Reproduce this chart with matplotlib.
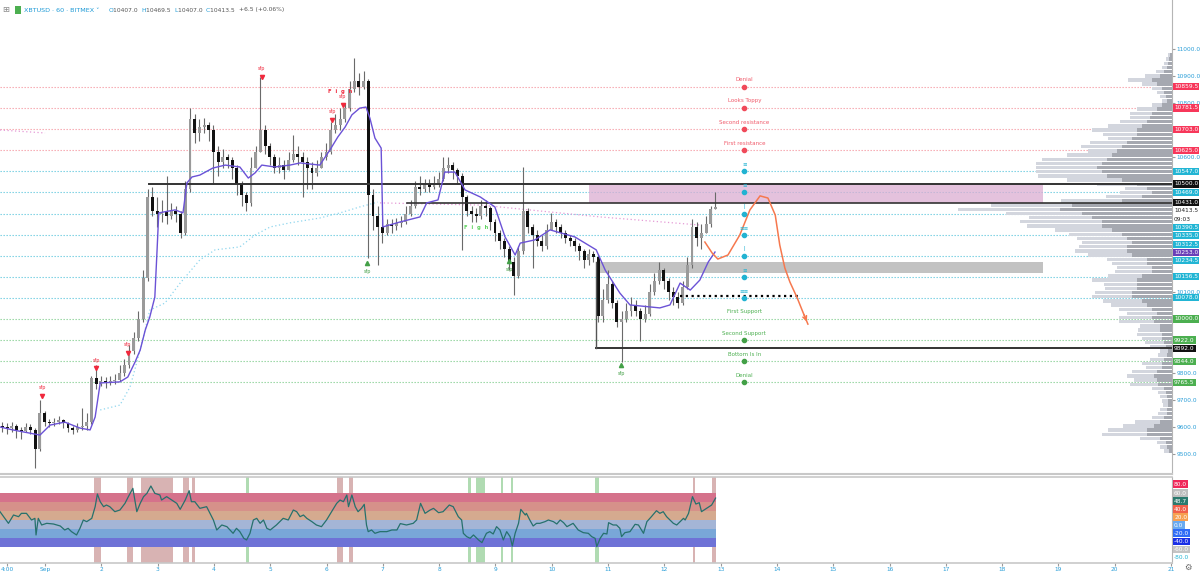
import numpy as np
import matplotlib.pyplot as plt
from matplotlib.transforms import blended_transform_factory
from matplotlib.patches import Rectangle

plt.rcParams['font.family'] = ['DejaVu Sans']

# ---- XBTUSD, 2h candles, first candle starts at day 0.2 (31 Aug), Sep 1 = day 1 ----
t_start = 0.2
bar_step = 1 / 12
first_open = 9605
close = [9600, 9595, 9605, 9590, 9585, 9600, 9590, 9520, 9650, 9620,
         9615, 9620, 9625, 9615, 9595, 9590, 9600, 9605, 9620, 9780,
         9760, 9770, 9765, 9770, 9775, 9800, 9830, 9880, 9930, 10000,
         10150, 10450, 10400, 10390, 10395, 10380, 10400, 10390, 10320, 10480,
         10740, 10690, 10710, 10720, 10700, 10620, 10580, 10600, 10590, 10560,
         10500, 10460, 10430, 10560, 10620, 10700, 10640, 10600, 10560, 10570,
         10550, 10590, 10610, 10600, 10580, 10560, 10540, 10560, 10600, 10620,
         10700, 10720, 10740, 10780, 10850, 10880, 10860, 10880, 10460, 10380,
         10340, 10320, 10350, 10345, 10355, 10360, 10390, 10420, 10490, 10480,
         10500, 10490, 10500, 10520, 10560, 10570, 10550, 10530, 10450, 10400,
         10390, 10380, 10420, 10410, 10360, 10320, 10290, 10260, 10210, 10160,
         10250, 10400, 10340, 10310, 10290, 10270, 10330, 10360, 10340, 10320,
         10300, 10290, 10270, 10250, 10220, 10240, 10230, 10010, 10070, 10130,
         10060, 9990, 10000, 10030, 10050, 10030, 10000, 10020, 10100, 10140,
         10180, 10140, 10100, 10080, 10060, 10120, 10200, 10340, 10300, 10320,
         10350, 10407, 10413.5]
high = [9620, 9615, 9620, 9610, 9600, 9615, 9610, 9595, 9700, 9660,
        9630, 9635, 9640, 9630, 9620, 9605, 9615, 9670, 9650, 9790,
        9830, 9790, 9785, 9790, 9795, 9830, 9850, 9904, 9950, 10030,
        10180, 10480, 10490, 10450, 10440, 10530, 10430, 10420, 10400, 10510,
        10781, 10760, 10740, 10745, 10730, 10720, 10640, 10630, 10610, 10600,
        10570, 10510, 10470, 10600, 10640, 10896, 10720, 10650, 10610, 10600,
        10590, 10620, 10680, 10640, 10620, 10600, 10580, 10590, 10620, 10650,
        10730, 10760, 10780, 10800, 10880, 10967, 10910, 10920, 10890, 10480,
        10420, 10370, 10370, 10370, 10375, 10380, 10420, 10440, 10510, 10530,
        10520, 10520, 10530, 10545, 10600, 10600, 10580, 10560, 10540, 10460,
        10420, 10410, 10440, 10440, 10420, 10370, 10330, 10300, 10270, 10230,
        10270, 10563, 10410, 10350, 10330, 10310, 10350, 10393, 10370, 10350,
        10330, 10310, 10300, 10280, 10260, 10260, 10250, 10240, 10110, 10180,
        10140, 10070, 10030, 10060, 10080, 10070, 10040, 10050, 10130, 10170,
        10210, 10190, 10150, 10120, 10100, 10140, 10230, 10370, 10360, 10350,
        10380, 10420, 10469.5]
low = [9580, 9575, 9580, 9560, 9555, 9580, 9575, 9448, 9510, 9605,
       9600, 9605, 9610, 9595, 9580, 9575, 9580, 9590, 9590, 9610,
       9740, 9750, 9745, 9755, 9760, 9770, 9790, 9820, 9870, 9920,
       9990, 10140, 10380, 10340, 10360, 10350, 10370, 10360, 10300, 10310,
       10470, 10650, 10660, 10690, 10660, 10500, 10530, 10560, 10560, 10520,
       10460, 10420, 10400, 10420, 10560, 10620, 10610, 10570, 10540, 10540,
       10520, 10550, 10580, 10570, 10450, 10480, 10480, 10530, 10560, 10590,
       10610, 10690, 10700, 10730, 10770, 10840, 10830, 10850, 10226, 10330,
       10200, 10280, 10310, 10320, 10330, 10340, 10350, 10380, 10410, 10460,
       10470, 10470, 10480, 10490, 10510, 10540, 10520, 10500, 10256, 10380,
       10360, 10360, 10370, 10380, 10330, 10290, 10260, 10230, 10180, 10089,
       10150, 10240, 10320, 10190, 10270, 10250, 10260, 10330, 10320, 10300,
       10280, 10270, 10250, 10220, 10190, 10200, 10210, 9990, 9990, 10060,
       10040, 9970, 9841, 9990, 10010, 10010, 9920, 9990, 10010, 10090,
       10130, 10110, 10070, 10050, 10040, 10050, 10110, 10190, 10270, 10260,
       10320, 10340, 10407]

# purple vwap-ish line
vwap_t = [0.20, 0.43, 0.91, 1.09, 1.35, 1.62, 1.80, 1.89, 1.98, 2.33, 2.47, 2.60, 2.69, 2.78,
          2.86, 2.95, 2.99, 3.02, 3.31, 3.45, 3.52, 3.61, 3.75, 3.98, 4.20, 4.46, 4.61, 4.73,
          4.85, 5.08, 5.35, 5.53, 5.88, 6.06, 6.20, 6.33, 6.45, 6.59, 6.70, 6.77, 6.86, 6.97,
          7.00, 7.30, 7.66, 7.78, 7.98, 8.10, 8.28, 8.46, 8.73, 8.99, 9.17, 9.35, 9.44, 9.70,
          9.97, 10.41, 10.79, 10.95, 11.21, 11.39, 11.92, 12.10, 12.28, 12.46, 12.63, 12.78, 12.90]
vwap_p = [9600, 9589, 9570, 9607, 9618, 9596, 9589, 9637, 9763, 9767, 9785, 9841, 9885, 9959,
          10007, 10081, 10256, 10393, 10404, 10393, 10504, 10526, 10533, 10559, 10570, 10563, 10522, 10541,
          10570, 10563, 10570, 10578, 10570, 10626, 10674, 10711, 10756, 10781, 10785, 10744, 10670, 10633,
          10341, 10359, 10378, 10430, 10441, 10544, 10544, 10478, 10452, 10415, 10304, 10237, 10281, 10293,
          10330, 10304, 10256, 10181, 10096, 10052, 10041, 10052, 10133, 10107, 10144, 10211, 10248]

# light blue anchored line (dotted)
avwap_t = [1.98, 2.33, 2.51, 2.69, 2.86, 3.13, 3.40, 3.75, 4.02, 4.46, 4.73, 5.00, 5.35, 5.88, 6.24, 6.59, 6.91]
avwap_p = [9663, 9681, 9748, 9885, 10033, 10059, 10133, 10219, 10256, 10267, 10311, 10341, 10356, 10374, 10393, 10415, 10433]

# pink dotted lines
pink1_t = [0.2, 1.0]
pink1_p = [10700, 10689]
pink2_t = [6.95, 8.73, 10.86, 12.63]
pink2_p = [10430, 10422, 10378, 10348]

# orange projection
proj_t = [12.72, 12.85, 12.95, 13.13, 13.34, 13.52, 13.70, 13.84, 13.97, 14.05, 14.14, 14.23, 14.36, 14.46, 14.55]
proj_p = [10285, 10244, 10222, 10237, 10311, 10404, 10456, 10448, 10385, 10274, 10189, 10137, 10078, 10026, 9981]

# levels
red_levels = [10859.5, 10781.5, 10703.0, 10625.0]
red_names = ["Denial", "Looks Toppy", "Second resistance", "First resistance"]
cyan_levels = [10547.0, 10469.0, 10390.5, 10312.5, 10234.5, 10156.5, 10078.0]
cyan_icons = ["≡", "≡", "ǀ", "≡≡", "ǀ", "≡", "≡≡"]
green_levels = [10000.0, 9922.0, 9844.0, 9765.5]
green_names = ["First Support", "Second Support", "Bottom Is In", "Denial"]
level_col_t = 13.42

# sfp markers
sfp_red_t = [0.95, 1.905, 2.47, 4.85, 6.10, 6.29]
sfp_red_p = [9715, 9818, 9874, 10896, 10737, 10793]
sfp_green_t = [6.72, 9.24, 11.23]
sfp_green_p = [10207, 10215, 9830]

# volume profile (top row first), bar lengths in px-ish units
vp_total = [4, 6, 8, 10, 16, 27, 44, 30, 20, 15, 12, 10, 20, 35, 42, 42, 52, 64, 80, 69,
            64, 82, 91, 84, 105, 130, 136, 136, 136, 134, 105, 75, 47, 52, 66, 111, 181, 214, 166, 143,
            152, 145, 117, 103, 95, 90, 93, 97, 84, 65, 60, 55, 57, 64, 80, 68, 67, 77, 80, 69,
            61, 53, 45, 53, 53, 32, 34, 35, 30, 27, 22, 12, 14, 22, 30, 26, 40, 45, 38, 42,
            20, 14, 12, 10, 9, 12, 14, 20, 37, 49, 64, 70, 32, 15, 12, 8]
vp_dark = [2, 3, 4, 5, 8, 12, 20, 15, 10, 8, 6, 5, 10, 15, 20, 22, 25, 30, 35, 35,
           40, 45, 50, 55, 60, 65, 70, 75, 70, 65, 50, 35, 25, 20, 30, 50, 100, 112, 90, 80,
           70, 70, 60, 50, 45, 40, 45, 45, 40, 25, 25, 20, 20, 30, 35, 35, 35, 40, 40, 30,
           25, 20, 15, 20, 18, 12, 12, 10, 10, 8, 6, 4, 5, 8, 10, 10, 15, 18, 15, 14,
           8, 6, 5, 4, 4, 5, 5, 8, 12, 18, 25, 25, 12, 6, 5, 3]

# zones
pink_zone = (10.66, 18.73, 10431, 10500)
gray_zone = (10.79, 18.73, 10170, 10211)

# oscillator
osc_t = [0.20, 0.35, 0.44, 0.53, 0.58, 0.67, 0.76, 0.82, 0.84, 0.88, 0.94, 1.03, 1.15, 1.27, 1.35,
         1.41, 1.47, 1.56, 1.62, 1.68, 1.74, 1.83, 1.89, 1.93, 1.98, 2.04, 2.09, 2.15, 2.24, 2.33,
         2.42, 2.48, 2.56, 2.63, 2.69, 2.75, 2.81, 2.88, 2.95, 3.04, 3.07, 3.16, 3.25, 3.34, 3.40,
         3.49, 3.56, 3.60, 3.66, 3.75, 3.87, 3.99, 4.05, 4.14, 4.23, 4.34, 4.40, 4.46, 4.53, 4.58,
         4.64, 4.70, 4.76, 4.82, 4.88, 4.94, 5.00, 5.11, 5.23, 5.32, 5.41, 5.47, 5.53, 5.59, 5.65,
         5.74, 5.82, 5.91, 6.00, 6.09, 6.18, 6.24, 6.30, 6.36, 6.39, 6.45, 6.51, 6.56, 6.62, 6.67,
         6.71, 6.74, 6.80, 6.86, 6.95, 7.07, 7.16, 7.25, 7.31, 7.42, 7.54, 7.60, 7.67, 7.75, 7.84,
         7.90, 7.99, 8.07, 8.18, 8.25, 8.34, 8.40, 8.43, 8.49, 8.55, 8.61, 8.70, 8.76, 8.84, 8.90,
         8.96, 9.02, 9.08, 9.14, 9.20, 9.26, 9.30, 9.35, 9.41, 9.45, 9.53, 9.55, 9.61, 9.67, 9.73,
         9.79, 9.88, 9.94, 10.03, 10.09, 10.15, 10.21, 10.27, 10.38, 10.47, 10.56, 10.65, 10.71, 10.77, 10.80,
         10.86, 10.92, 10.98, 11.01, 11.09, 11.15, 11.21, 11.24, 11.30, 11.39, 11.48, 11.54, 11.63, 11.69, 11.77,
         11.86, 11.92, 11.98, 12.04, 12.10, 12.16, 12.22, 12.28, 12.34, 12.37, 12.43, 12.50, 12.56, 12.62, 12.66,
         12.75, 12.84, 12.91]
osc_v = [18.5, -7.4, 11.1, 7.4, 14.8, 14.8, 0, 3.7, -33.3, 3.7, -11.1, -7.4, -8.9, -13.3, -22.2,
         -18.5, -25.9, -33.3, -18.5, 0, -3.7, 3.7, 29.6, 57.8, 40.7, 29.6, 33.3, 29.6, 18.5, 22.2,
         37.0, 51.9, 70.4, 18.5, 37.0, 51.9, 59.3, 75.6, 59.3, 55.6, 44.4, 51.9, 44.4, 37.0, 23.7,
         44.4, 65.2, 40.7, 40.7, 25.9, 29.6, 0, -22.2, -11.1, -14.8, -29.6, -18.5, -25.9, -40.7, -44.4,
         -29.6, 0, 3.7, -7.4, 0, -18.5, -22.2, -11.1, 3.7, 0, 22.2, 18.5, 7.4, 11.1, 3.7,
         -3.7, -11.1, -14.8, 0, 18.5, 37.0, 44.4, 40.7, 55.6, 29.6, 55.6, 29.6, 18.5, 25.9, 34.8,
         -11.1, -25.9, -22.2, -29.6, -25.9, -25.9, -22.2, -22.2, -8.0, -11.1, -7.4, 0, 37.0, 14.8, 22.2,
         25.9, 16.3, 18.5, 33.3, 29.6, 7.4, 0, -29.6, -37.0, -40.7, -33.3, -44.4, -50.4, -29.6, -25.9,
         -31.1, -14.8, -22.2, -44.4, -25.9, -37.0, -57.8, -29.6, -7.4, 23.7, 11.1, 14.8, 0, -13.3, -7.4,
         -7.4, -3.7, 0, -3.7, -8.9, 0, -5.9, -14.8, -7.4, -22.2, -28.1, -29.6, -37.0, -40.7, -59.3,
         -40.7, -29.6, -31.1, -5.9, -11.1, -11.1, -18.5, -37.0, -28.1, -25.9, -9.6, -11.1, -29.6, -3.7, 7.4,
         20.7, 14.8, 18.5, 7.4, 0, -7.4, -11.1, -3.7, 3.7, 0, 14.8, 51.9, 35.5, 38.5, 18.5,
         25.9, 33.3, 48.7]
osc_red_cols = [(1.87, 1.99), (2.46, 2.56), (2.70, 3.27), (3.45, 3.56), (3.61, 3.66),
                (6.19, 6.29), (6.40, 6.47), (12.51, 12.54), (12.85, 12.92)]
osc_green_cols = [(4.57, 4.62), (8.51, 8.57), (8.65, 8.81), (9.10, 9.13), (9.28, 9.31), (10.77, 10.84)]
band_edges = [60, 40, 20, 0, -20, -40, -60]
band_colors = ['#d5728b', '#d6918a', '#d5aa8f', '#a4b5d6', '#79a7d8', '#6e72d6']

# price scale ticks left visible (others sit under the coloured tags)
scale_ticks = [11000, 10900, 10800, 10600, 10100, 9800, 9700, 9600, 9500]

W, H = 1200, 573
X_MIN, X_MAX = 0.2, 21.017
fig = plt.figure(figsize=(12, 5.73), dpi=100)
ax = fig.add_axes([0, (H - 474) / H, 1172 / W, 474 / H])
ax2 = fig.add_axes([0, (H - 563) / H, 1172 / W, 86 / H])
ax.set_xlim(X_MIN, X_MAX)
ax.set_ylim(9425.8, 11181.5)
ax2.set_xlim(X_MIN, X_MAX)
ax2.set_ylim(-95.6, 95.6)

# levels
for p, name in zip(red_levels, red_names):
    ax.axhline(p, color='#f6a2aa', ls=(0, (1.2, 1.5)), lw=0.8, zorder=1)
    ax.plot(level_col_t, p, 'o', ms=3, color='#f04a5a', zorder=5)
    ax.text(level_col_t, p + 26, name, ha='center', va='center', fontsize=4, color='#f05a6a', zorder=5)
for p, ic in zip(cyan_levels, cyan_icons):
    ax.axhline(p, color='#6fcde0', ls=(0, (1.2, 1.5)), lw=0.8, zorder=1)
    ax.plot(level_col_t, p, 'o', ms=3, color='#22b3d2', zorder=5)
    ax.text(level_col_t, p + 26, ic, ha='center', va='center', fontsize=4, color='#22b3d2', zorder=5)
for k, (p, name) in enumerate(zip(green_levels, green_names)):
    ax.axhline(p, color='#8fd39a', ls=(0, (1.2, 1.5)), lw=0.8, zorder=1)
    if k > 0:
        ax.plot(level_col_t, p, 'o', ms=3, color='#43a047', zorder=5)
    ax.text(level_col_t, p + 26, name, ha='center', va='center', fontsize=4, color='#4caf50', zorder=5)

# zones
ax.add_patch(Rectangle((pink_zone[0], pink_zone[2]), pink_zone[1] - pink_zone[0],
                       pink_zone[3] - pink_zone[2], fc='#dcaed2', alpha=0.75, lw=0, zorder=1.5))
ax.add_patch(Rectangle((gray_zone[0], gray_zone[2]), gray_zone[1] - gray_zone[0],
                       gray_zone[3] - gray_zone[2], fc='#c2c2c2', lw=0, zorder=1.5))

# volume profile
n_vp = len(vp_total)
vp_prices = 10977.8 - 15.44 * np.arange(n_vp)
px_day = 1 / 56.3
ax.barh(vp_prices, -np.array(vp_total) * px_day, left=X_MAX, height=12.5,
        color='#d3d6de', lw=0, zorder=2)
ax.barh(vp_prices, -np.array(vp_dark) * px_day, left=X_MAX, height=12.5,
        color='#a5a8b0', lw=0, zorder=2.1)

# black structure lines
ax.plot([2.847, X_MAX], [10500, 10500], color='#333333', lw=1.4, zorder=3.5)
ax.plot([7.43, X_MAX], [10431, 10431], color='#333333', lw=1.2, zorder=3.5)
ax.plot([10.79, X_MAX], [9892, 9892], color='#333333', lw=1.4, zorder=3.5)
ax.plot([10.79, 10.79], [9892, 10211], color='#555555', lw=1.0, zorder=3.5)
ax.plot([12.28, 14.41], [10085, 10085], color='black', ls=(0, (1, 1.6)), lw=1.6, zorder=3.5)

# candles
n = len(close)
t = t_start + (np.arange(n) + 0.5) * bar_step
opens = np.array([first_open] + close[:-1])
closes = np.array(close)
ax.vlines(t, low, high, color='#6a6a6a', lw=0.8, zorder=3)
up = closes >= opens
body_lo = np.minimum(opens, closes)
body_h = np.maximum(np.abs(closes - opens), 2.5)
ax.bar(t[up], body_h[up], bottom=body_lo[up], width=0.052, color='#9a9a9a', lw=0, zorder=3.2)
ax.bar(t[~up], body_h[~up], bottom=body_lo[~up], width=0.052, color='#111111', lw=0, zorder=3.2)

# indicator lines on price
ax.plot(vwap_t, vwap_p, color='#6b52d6', lw=1.0, zorder=4)
ax.plot(avwap_t, avwap_p, color='#8fd6ee', ls=(0, (1, 2)), lw=0.9, zorder=2.5)
ax.plot(pink1_t, pink1_p, color='#e59ad6', ls=(0, (1, 2)), lw=0.9, zorder=2.5)
ax.plot(pink2_t, pink2_p, color='#e59ad6', ls=(0, (1, 2)), lw=0.9, zorder=2.5)
ax.plot(proj_t, proj_p, color='#f6784e', lw=1.1, zorder=4)
ax.annotate('', xy=(proj_t[-1], proj_p[-1]), xytext=(proj_t[-2], proj_p[-2]),
            arrowprops=dict(arrowstyle='->', color='#f6784e', lw=1.1, mutation_scale=7), zorder=4)

# sfp markers
for tt, pp in zip(sfp_red_t, sfp_red_p):
    ax.plot(tt, pp, 'v', ms=3, color='#f0283c', zorder=5)
    ax.text(tt, pp + 30, 'sfp', ha='center', va='center', fontsize=3.5, color='#f0283c', zorder=5)
for tt, pp in zip(sfp_green_t, sfp_green_p):
    ax.plot(tt, pp, '^', ms=3, color='#43a047', zorder=5)
    ax.text(tt, pp - 32, 'sfp', ha='center', va='center', fontsize=3.5, color='#43a047', zorder=5)
ax.text(6.24, 10841, 'F  i  g  h', ha='center', va='center', fontsize=3.8, color='#f0283c',
        weight='bold', zorder=5)
ax.text(8.65, 10337, 'F  i  g  h', ha='center', va='center', fontsize=3.8, color='#5fd35f',
        weight='bold', zorder=5)

# right scale, main
ax.set_xticks([])
ax.set_yticks(scale_ticks)
ax.set_yticklabels([f"{v:.1f}" for v in scale_ticks])
ax.yaxis.tick_right()
ax.tick_params(axis='y', length=2, pad=1.5, labelsize=4.2, labelcolor='#2a9ed8', color='#9a9a9a')
for s in ['left', 'top']:
    ax.spines[s].set_visible(False)
ax.spines['right'].set_color('#b5b5b5')
ax.spines['bottom'].set_color('#c8c8c8')
ax.spines['bottom'].set_linewidth(1.5)


def stack(vals, gap):
    order = np.argsort(vals)[::-1]
    pos = list(vals)
    prev = None
    for i in order:
        y = vals[i]
        if prev is not None and y > prev - gap:
            y = prev - gap
        pos[i] = y
        prev = y
    return pos


tag_vals = [10859.5, 10781.5, 10703.0, 10625.0, 10547.0, 10500.0, 10469.0, 10431.0, 10413.5, 10413.4,
            10390.5, 10335.0, 10312.5, 10253.0, 10234.5, 10156.5, 10078.0, 10000.0, 9922.0, 9892.0,
            9844.0, 9765.5]
tag_text = ['10859.5', '10781.5', '10703.0', '10625.0', '10547.0', '10500.0', '10469.0', '10431.0',
            '10413.5', '09:03', '10390.5', '10335.0', '10312.5', '10253.0', '10234.5', '10156.5',
            '10078.0', '10000.0', '9922.0', '9892.0', '9844.0', '9765.5']
R, C, K, G = '#f7375a', '#22b5d4', '#111111', '#4caf50'
tag_bg = [R, R, R, R, C, K, C, K, None, None, C, C, C, '#6a3fb8', C, C, C, G, G, K, G, G]

trans = blended_transform_factory(ax.transAxes, ax.transData)
for v, txt, bg in zip(stack(tag_vals, 30.7), tag_text, tag_bg):
    if bg:
        ax.text(1.0018, v, txt, transform=trans, ha='left', va='center', fontsize=4.2, color='white',
                bbox=dict(boxstyle='square,pad=0.18', fc=bg, ec='none'), clip_on=False, zorder=8)
    else:
        ax.text(1.0018, v, txt, transform=trans, ha='left', va='center', fontsize=4.2,
                color='#222222', clip_on=False, zorder=8)

# oscillator panel
for a, b in osc_red_cols:
    ax2.axvspan(a, b, color='#cc9a9a', alpha=0.75, lw=0, zorder=0.5)
for a, b in osc_green_cols:
    ax2.axvspan(a, b, color='#a8d8aa', alpha=0.9, lw=0, zorder=0.5)
for k, c in enumerate(band_colors):
    ax2.fill_between([0.2, 12.92], band_edges[k + 1], band_edges[k], color=c, lw=0, zorder=1)
ax2.plot(osc_t, osc_v, color='#26716d', lw=0.9, zorder=3)

ax2.set_yticks([])
day_ticks = [0.33] + list(range(1, 22))
day_labels = ['4:00', 'Sep'] + [str(d) for d in range(2, 22)]
ax2.set_xticks(day_ticks)
ax2.set_xticklabels(day_labels)
ax2.tick_params(axis='x', length=2, pad=1.2, labelsize=4.2, labelcolor='#2a9ed8', color='#9a9a9a')
ax2.spines['left'].set_visible(False)
for s in ['top', 'bottom']:
    ax2.spines[s].set_color('#c8c8c8')
    ax2.spines[s].set_linewidth(1.2)
ax2.spines['right'].set_color('#b5b5b5')

osc_tag_vals = [80, 60, 48.7, 40, 20, 0, -20, -40, -60, -80]
osc_tag_text = ['80.0', '60.0', '48.7', '40.0', '20.0', '0.0', '-20.0', '-40.0', '-60.0', '-80.0']
osc_tag_bg = ['#f0285a', '#bdbdbd', '#2a7a6e', '#f0604a', '#f7a050', '#6aaaf0', '#2f6cf6',
              '#1a2fe6', '#c4c4c4', None]
trans2 = blended_transform_factory(ax2.transAxes, ax2.transData)
for v, txt, bg in zip(stack(osc_tag_vals, 17.8), osc_tag_text, osc_tag_bg):
    if bg:
        ax2.text(1.0018, v, txt, transform=trans2, ha='left', va='center', fontsize=4.2, color='white',
                 bbox=dict(boxstyle='square,pad=0.18', fc=bg, ec='none'), clip_on=False, zorder=8)
    else:
        ax2.text(1.0018, v, txt, transform=trans2, ha='left', va='center', fontsize=4.2,
                 color='#22b5d4', clip_on=False, zorder=8)

# header
renderer = fig.canvas.get_renderer()
fig.text(6 / W, 1 - 10 / H, '⊞', fontsize=6, color='#8a8a8a', va='center', ha='center')
fig.patches.append(Rectangle((15 / W, 1 - 14 / H), 6 / W, 8 / H, transform=fig.transFigure,
                             fc='#4caf50', ec='none'))
title = fig.text(24 / W, 1 - 10 / H, 'XBTUSD · 60 · BITMEX ˅', fontsize=4.6, color='#1e9ad6',
                 va='center', ha='left')
tb = title.get_window_extent(renderer=renderer)
hx = (tb.x1 + 9) / fig.bbox.width
parts = [('O', '#1e9ad6'), ('10407.0  ', '#555555'), ('H', '#1e9ad6'), ('10469.5  ', '#555555'),
         ('L', '#1e9ad6'), ('10407.0  ', '#555555'), ('C', '#1e9ad6'), ('10413.5  ', '#555555'),
         ('+6.5 (+0.06%)', '#555555')]
for txt, col in parts:
    tx = fig.text(hx, 1 - 10 / H, txt, fontsize=4.3, color=col, va='center', ha='left')
    bb = tx.get_window_extent(renderer=renderer)
    hx += bb.width / fig.bbox.width

fig.text(1188 / W, 1 - 567 / H, '⚙', fontsize=6, color='#666666', va='center', ha='center')

fig.savefig('out.png', dpi=100)
